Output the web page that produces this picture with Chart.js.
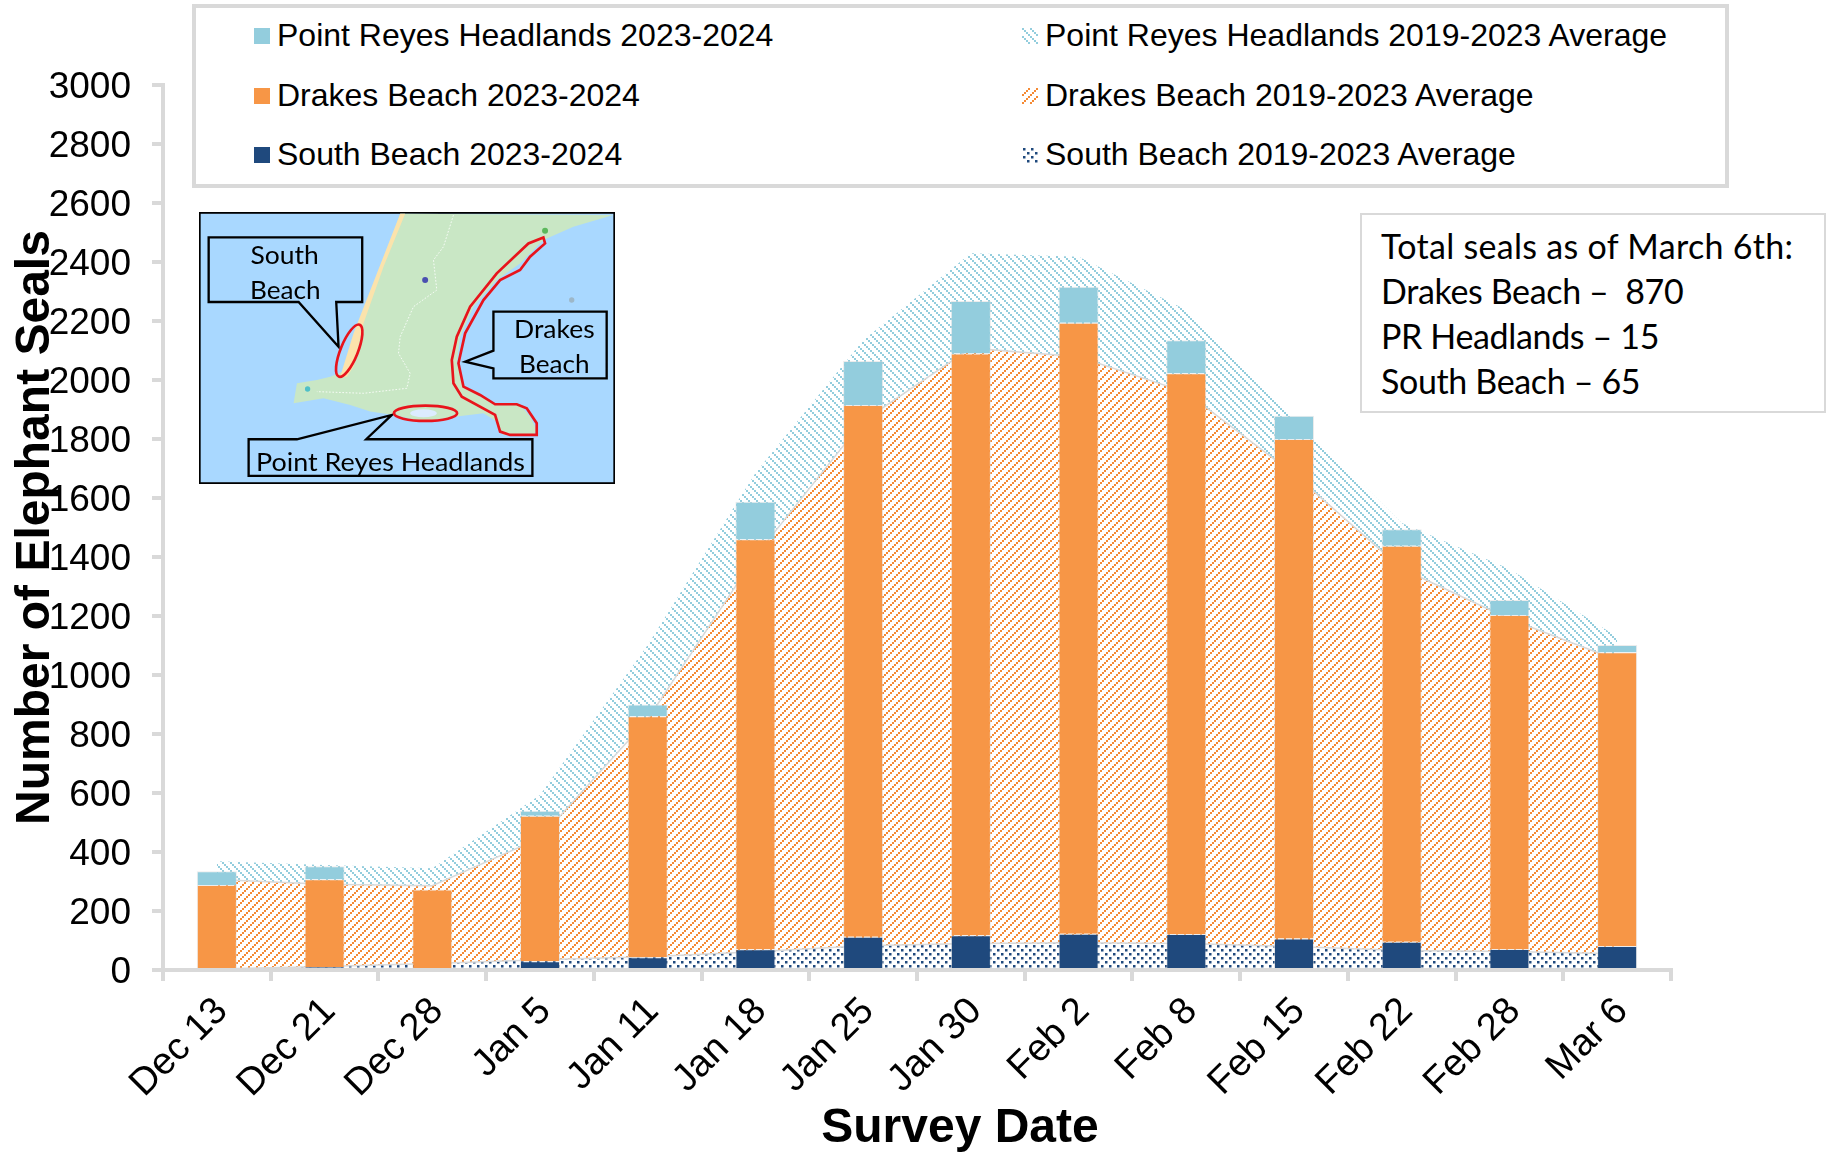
<!DOCTYPE html>
<html>
<head>
<meta charset="utf-8">
<title>Elephant seal surveys</title>
<script src="https://cdn.jsdelivr.net/npm/chart.js@4"></script>
<style>
  html, body { margin: 0; background: #fff; }
  #wrap { position: relative; width: 1826px; height: 1152px; overflow: hidden; }
  #chart { position: absolute; left: 0; top: 0; }
  #legend { position: absolute; left: 192px; top: 4px; width: 1529px; height: 176px; border: 4px solid #d9d9d9; background: #fff; }
  .row { position: absolute; font: 32px "Liberation Sans", Arial, sans-serif; color: #000; white-space: nowrap; line-height: 40px; }
  .swatch { position: absolute; top: 12px; width: 16px; height: 16px; }
  #note { position: absolute; left: 1360px; top: 213px; width: 466px; height: 200px; box-sizing: border-box; border: 2px solid #d9d9d9; background: #fff;
          font: 34px Lato, sans-serif; line-height: 45px; padding: 8px 0 0 19px; white-space: pre; color: #000; letter-spacing: -0.35px; }
  #note span { letter-spacing: 0.3px; }
  #map { position: absolute; left: 199px; top: 212px; width: 416px; height: 272px; }
</style>
</head>
<body>
<div id="wrap">
  <canvas id="chart" width="1826" height="1152"></canvas>
  <div id="legend"></div>
  <svg id="map" viewBox="146 636 1249 816">
    <rect x="148" y="638" width="1245" height="812" fill="#a9d8ff" stroke="#000" stroke-width="6"/>
    <path d="M750 641 L700 780 L650 920 L610 1040 L590 1110 L540 1130 L500 1140 L440 1150 L430 1210 L520 1195 L600 1215 L660 1235 L730 1245 L820 1265 L920 1250 L1000 1240 L1040 1265 L1060 1305 L1150 1305 L1160 1290 L1140 1250 L1110 1215 L1040 1215 L990 1190 L940 1155 L920 1090 L930 1010 L970 920 L1040 840 L1110 790 L1180 720 L1270 680 L1390 645 Z" fill="#c9e7c5"/>
    <path d="M750 641 L765 641 L700 800 L640 970 L610 1100 L590 1130 L570 1130 L610 1000 L680 820 Z" fill="#fbe3ac"/>
    <path d="M910 645 L880 740 L850 780 L860 870 L790 920 L750 1010 L745 1060 L780 1120 L770 1165 L640 1180 L500 1175" fill="none" stroke="#fff" stroke-width="2.5" stroke-dasharray="5 5"/>
    <circle cx="825" cy="840" r="9" fill="#4a4fb0"/>
    <circle cx="1185" cy="692" r="9" fill="#5cb85c"/>
    <circle cx="472" cy="1167" r="8" fill="#4fc0c8"/>
    <circle cx="1265" cy="900" r="8" fill="#9db7c8"/>
    <ellipse cx="820" cy="1240" rx="40" ry="12" fill="#dcecff"/>
    <g fill="#a9d8ff" stroke="#000" stroke-width="7" stroke-linejoin="miter">
      <path d="M175 712 H636 V906 H558 L565 1040 L445 906 H175 Z"/>
      <path d="M1030 935 H1370 V1135 H1030 V1105 L945 1085 L1030 1052 Z"/>
      <path d="M295 1318 H440 L725 1245 L648 1318 H1147 V1428 H295 Z"/>
    </g>
    <g fill="none" stroke="#e8141c" stroke-width="8">
      <ellipse cx="597" cy="1052" rx="26" ry="84" transform="rotate(22 597 1052)"/>
      <ellipse cx="826" cy="1240" rx="95" ry="23"/>
      <path d="M1180 712 L1135 730 L1040 820 L960 920 L920 1010 L905 1080 L910 1150 L935 1190 L1035 1245 L1050 1295 L1080 1305 L1160 1305 L1160 1270 L1130 1225 L1100 1213 L1035 1213 L990 1185 L940 1160 L925 1090 L945 1000 L1000 900 L1050 840 L1110 810 L1140 770 L1185 730 Z"/>
    </g>
    <g font-family="Lato, sans-serif" font-size="76" fill="#000" text-anchor="middle">
      <text x="403" y="792" textLength="205" lengthAdjust="spacingAndGlyphs">South</text>
      <text x="405" y="896" textLength="212" lengthAdjust="spacingAndGlyphs">Beach</text>
      <text x="1213" y="1013" textLength="242" lengthAdjust="spacingAndGlyphs">Drakes</text>
      <text x="1213" y="1118" textLength="212" lengthAdjust="spacingAndGlyphs">Beach</text>
      <text x="721" y="1412" textLength="807" lengthAdjust="spacingAndGlyphs">Point Reyes Headlands</text>
    </g>
  </svg>
  <div id="note"><span>Total seals as of March 6th:</span>
Drakes Beach –  870
PR Headlands – 15
South Beach – 65</div>
</div>

<script>
const surveyDates = ['Dec 13', 'Dec 21', 'Dec 28', 'Jan 5', 'Jan 11', 'Jan 18', 'Jan 25', 'Jan 30', 'Feb 2', 'Feb 8', 'Feb 15', 'Feb 22', 'Feb 28', 'Mar 6'];

// 2023-2024 survey counts (bars)
const southBeach = [0, 10, 0, 30, 43, 70, 113, 118, 123, 122, 107, 96, 71, 81];
const drakesBeach = [288, 298, 273, 493, 817, 1390, 1802, 1972, 2071, 1901, 1693, 1342, 1132, 996];
const headlands = [47, 44, 0, 17, 40, 127, 149, 178, 122, 112, 79, 56, 51, 25];

// 2019-2023 averages (stacked areas)
const southAvg = [3, 12, 22, 35, 45, 62, 82, 90, 92, 90, 80, 66, 63, 55];
const drakesAvg = [304, 279, 264, 412, 805, 1341, 1779, 2018, 1987, 1868, 1601, 1295, 1127, 996];
const headlandsAvg = [62, 65, 59, 146, 252, 282, 274, 322, 339, 279, 195, 154, 169, 79];

const yTicks = [0, 200, 400, 600, 800, 1000, 1200, 1400, 1600, 1800, 2000, 2200, 2400, 2600, 2800, 3000];

const legendLeft = ['Point Reyes Headlands 2023-2024', 'Drakes Beach 2023-2024', 'South Beach 2023-2024'];
const legendRight = ['Point Reyes Headlands 2019-2023 Average', 'Drakes Beach 2019-2023 Average', 'South Beach 2019-2023 Average'];

const blue = '#93cddd';
const orange = '#f79646';
const navy = '#1f497d';
const axisGrey = '#d9d9d9';

// small pixel tiles, same look as the office hatch fills
function tile(color, blocks) {
    const c = document.createElement('canvas');
    c.width = 8;
    c.height = 8;
    const ctx = c.getContext('2d');
    ctx.fillStyle = color;
    blocks.forEach(b => ctx.fillRect(b[0], b[1], b[2], b[2]));
    return c;
}
const blueTile = tile(blue, [[0, 0, 2], [2, 2, 2], [4, 4, 2], [6, 6, 2]]);
const orangeTile = tile('#f58a34', [[0, 6, 2], [2, 4, 2], [4, 2, 2], [6, 0, 2]]);
const navyTile = tile(navy, [[1, 1, 2.5], [5, 5, 2.5]]);

const pctx = document.getElementById('chart').getContext('2d');
const bluePattern = pctx.createPattern(blueTile, 'repeat');
const orangePattern = pctx.createPattern(orangeTile, 'repeat');
const navyPattern = pctx.createPattern(navyTile, 'repeat');

// legend box
const legendBox = document.getElementById('legend');
const solidColors = [blue, orange, navy];
const tiles = [blueTile, orangeTile, navyTile];
[20, 80, 139].forEach((top, i) => {
    const a = document.createElement('div');
    a.className = 'row';
    a.style.left = '81px';
    a.style.top = (top - 13) + 'px';
    a.textContent = legendLeft[i];
    legendBox.appendChild(a);
    const s1 = document.createElement('div');
    s1.className = 'swatch';
    s1.style.left = '58px';
    s1.style.top = top + 'px';
    s1.style.background = solidColors[i];
    legendBox.appendChild(s1);

    const b = document.createElement('div');
    b.className = 'row';
    b.style.left = '849px';
    b.style.top = (top - 13) + 'px';
    b.textContent = legendRight[i];
    legendBox.appendChild(b);
    const s2 = document.createElement('div');
    s2.className = 'swatch';
    s2.style.left = '826px';
    s2.style.top = top + 'px';
    s2.style.backgroundImage = 'url(' + tiles[i].toDataURL() + ')';
    legendBox.appendChild(s2);
});

// the x title sits right of the plot centre in the original
const surveyDateTitle = {
    id: 'surveyDateTitle',
    afterDraw(chart) {
        const area = chart.chartArea;
        const ctx = chart.ctx;
        ctx.save();
        ctx.font = 'bold 48px "Liberation Sans", Arial, sans-serif';
        ctx.fillStyle = '#000';
        ctx.textAlign = 'center';
        ctx.textBaseline = 'middle';
        ctx.fillText('Survey Date', (area.left + area.right) / 2 + 43, 1129);
        ctx.restore();
    }
};

const barStyle = { type: 'bar', stack: 'counts', order: 1, barPercentage: 1, categoryPercentage: 0.372, borderWidth: 1, borderColor: 'rgba(217,217,217,0.5)' };
const areaStyle = { type: 'line', stack: 'averages', order: 2, pointRadius: 0, tension: 0 };

new Chart(pctx, {
    type: 'bar',
    data: {
        labels: surveyDates,
        datasets: [
            { ...barStyle, label: 'South Beach 2023-2024', data: southBeach, backgroundColor: navy },
            { ...barStyle, label: 'Drakes Beach 2023-2024', data: drakesBeach, backgroundColor: orange },
            { ...barStyle, label: 'Point Reyes Headlands 2023-2024', data: headlands, backgroundColor: blue },
            { ...areaStyle, label: 'South Beach 2019-2023 Average', data: southAvg, backgroundColor: navyPattern, fill: 'origin', borderColor: axisGrey, borderWidth: 1.5 },
            { ...areaStyle, label: 'Drakes Beach 2019-2023 Average', data: drakesAvg, backgroundColor: orangePattern, fill: '-1', borderColor: axisGrey, borderWidth: 1.5 },
            { ...areaStyle, label: 'Point Reyes Headlands 2019-2023 Average', data: headlandsAvg, backgroundColor: bluePattern, fill: '-1', borderWidth: 0 }
        ]
    },
    options: {
        responsive: false,
        animation: false,
        layout: { padding: { top: 85, right: 155 } },
        plugins: { legend: { display: false }, title: { display: false }, tooltip: { enabled: false } },
        scales: {
            x: {
                stacked: true,
                offset: true,
                afterFit(scale) { scale.height = 182; },
                grid: { offset: true, drawOnChartArea: false, color: axisGrey, lineWidth: 4, tickLength: 11 },
                border: { color: axisGrey, width: 4, z: 1 },
                ticks: { color: '#000', font: { family: '"Liberation Sans", Arial, sans-serif', size: 38 }, minRotation: 45, maxRotation: 45, autoSkip: false, padding: 8, labelOffset: 5 }
            },
            y: {
                stacked: true,
                min: 0,
                max: 3000,
                afterBuildTicks(scale) { scale.ticks = yTicks.map(v => ({ value: v })); },
                afterFit(scale) { scale.width = 163; },
                grid: { drawOnChartArea: false, color: axisGrey, lineWidth: 4, tickLength: 11 },
                border: { color: axisGrey, width: 4 },
                ticks: { color: '#000', font: { family: '"Liberation Sans", Arial, sans-serif', size: 37 }, padding: 21, labelOffset: 2.5, callback: v => String(v) },
                title: {
                    display: true,
                    text: 'Number of Elephant Seals',
                    color: '#000',
                    font: { family: '"Liberation Sans", Arial, sans-serif', size: 48, weight: 'bold' },
                    padding: { top: 7, bottom: 0 }
                }
            }
        }
    },
    plugins: [surveyDateTitle]
});
</script>
</body>
</html>
